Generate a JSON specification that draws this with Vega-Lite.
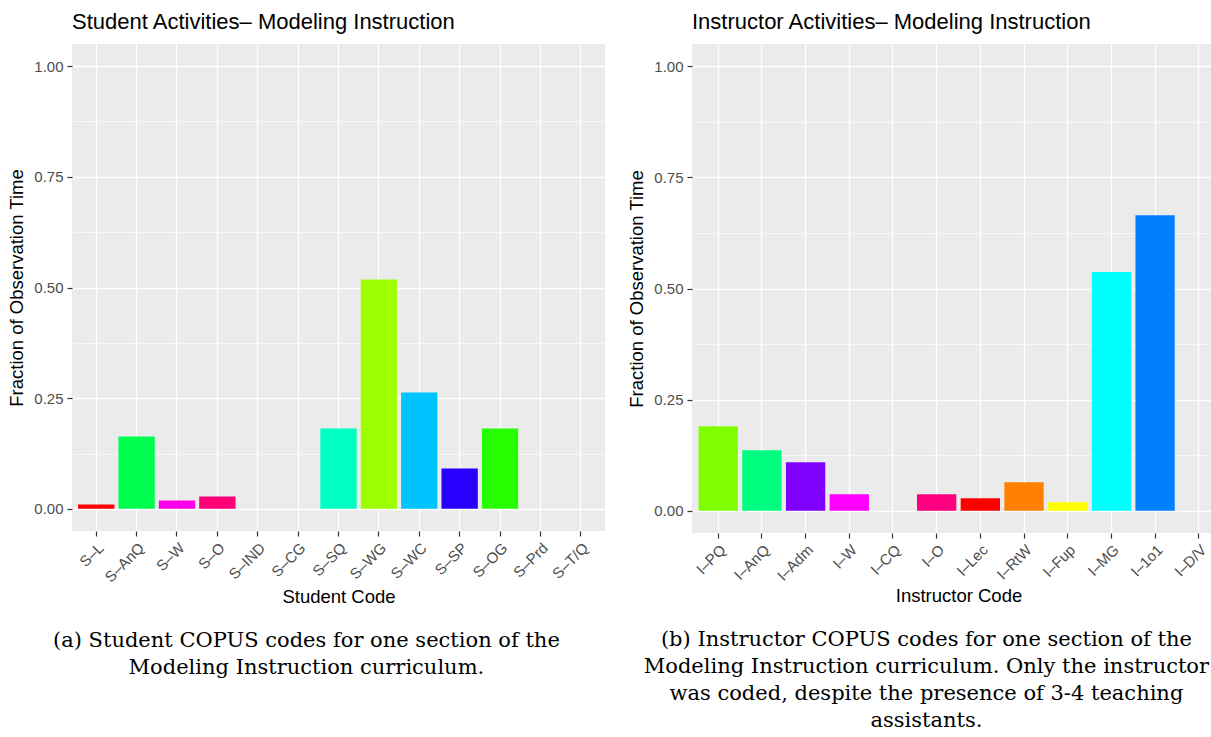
{
  "$schema": "https://vega.github.io/schema/vega-lite/v6.json",
  "background": "white",
  "padding": {"left": 7, "top": 11, "right": 0, "bottom": 0},
  "resolve": {"scale": {"color": "independent", "x": "independent", "y": "independent"}},
  "config": {
    "font": "Liberation Sans",
    "view": {"fill": "#EBEBEB", "stroke": null},
    "axis": {
      "gridColor": "white", "gridWidth": 1.3, "domain": false,
      "tickColor": "#333333", "tickSize": 5, "tickWidth": 1.2,
      "labelColor": "#4D4D4D", "labelFontSize": 15, "labelPadding": 4,
      "titleFontSize": 18.5, "titleFontWeight": "normal", "titleColor": "black"
    },
    "title": {"font": "Liberation Sans", "fontSize": 22, "fontWeight": "normal", "anchor": "start", "frame": "group", "color": "black"},
    "concat": {"spacing": 22}
  },
  "datasets": {
    "student": [
      {"code": "S–L", "value": 0.010},
      {"code": "S–AnQ", "value": 0.1635},
      {"code": "S–W", "value": 0.019},
      {"code": "S–O", "value": 0.028},
      {"code": "S–IND", "value": 0},
      {"code": "S–CG", "value": 0},
      {"code": "S–SQ", "value": 0.1818},
      {"code": "S–WG", "value": 0.518},
      {"code": "S–WC", "value": 0.263},
      {"code": "S–SP", "value": 0.091},
      {"code": "S–OG", "value": 0.1818},
      {"code": "S–Prd", "value": 0},
      {"code": "S–T/Q", "value": 0}
    ],
    "instructor": [
      {"code": "I–PQ", "value": 0.190},
      {"code": "I–AnQ", "value": 0.136},
      {"code": "I–Adm", "value": 0.109},
      {"code": "I–W", "value": 0.037},
      {"code": "I–CQ", "value": 0},
      {"code": "I–O", "value": 0.037},
      {"code": "I–Lec", "value": 0.028},
      {"code": "I–RtW", "value": 0.064},
      {"code": "I–Fup", "value": 0.019},
      {"code": "I–MG", "value": 0.537},
      {"code": "I–1o1", "value": 0.665},
      {"code": "I–D/V", "value": 0}
    ]
  },
  "hconcat": [
    {
      "title": {
        "text": ["(a) Student COPUS codes for one section of the", "Modeling Instruction curriculum."],
        "orient": "bottom", "anchor": "middle", "frame": "bounds",
        "font": "DejaVu Serif", "fontSize": 21, "lineHeight": 27, "offset": 24
      },
      "vconcat": [
        {
          "title": {"text": "Student Activities– Modeling Instruction", "offset": 10},
          "width": 533, "height": 487,
          "data": {"name": "student"},
          "layer": [
            {
              "mark": {"type": "bar"},
              "encoding": {
                "x": {"field": "code", "type": "nominal", "sort": null,
                  "scale": {"paddingInner": 0.1, "paddingOuter": 0.15},
                  "axis": {"title": "Student Code", "labelAngle": -45, "labelAlign": "right", "labelBaseline": "top", "grid": true, "titlePadding": 3}},
                "y": {"field": "value", "type": "quantitative",
                  "scale": {"domain": [-0.05, 1.05], "nice": false, "zero": false},
                  "axis": {"title": "Fraction of Observation Time", "values": [0, 0.25, 0.5, 0.75, 1], "format": ".2f", "titlePadding": 7}},
                "y2": {"datum": 0},
                "color": {"field": "code", "type": "nominal",
                  "scale": {"domain": ["S–L","S–AnQ","S–W","S–O","S–IND","S–CG","S–SQ","S–WG","S–WC","S–SP","S–OG","S–Prd","S–T/Q"],
                    "range": ["#FF0000","#00FF4E","#FF00EB","#FF0076","#FF7600","#FFEB00","#00FFC4","#9DFF00","#00C4FF","#2700FF","#27FF00","#004EFF","#9D00FF"]},
                  "legend": null}
              }
            },
            {
              "mark": {"type": "bar", "opacity": 0},
              "encoding": {
                "x": {"field": "code", "type": "nominal", "sort": null},
                "y": {"field": "value", "type": "quantitative",
                  "axis": {"orient": "right", "values": [0.125, 0.375, 0.625, 0.875], "labels": false, "ticks": false, "title": null, "grid": true, "gridWidth": 0.6}},
                "y2": {"datum": 0}
              }
            }
          ],
          "resolve": {"axis": {"y": "independent"}}
        }
      ]
    },
    {
      "title": {
        "text": ["(b) Instructor COPUS codes for one section of the", "Modeling Instruction curriculum. Only the instructor", "was coded, despite the presence of 3-4 teaching", "assistants."],
        "orient": "bottom", "anchor": "middle", "frame": "bounds",
        "font": "DejaVu Serif", "fontSize": 21, "lineHeight": 27, "offset": 24
      },
      "vconcat": [
        {
          "title": {"text": "Instructor Activities– Modeling Instruction", "offset": 10},
          "width": 533, "height": 489,
          "data": {"name": "instructor"},
          "layer": [
            {
              "mark": {"type": "bar"},
              "encoding": {
                "x": {"field": "code", "type": "nominal", "sort": null,
                  "scale": {"paddingInner": 0.1, "paddingOuter": 0.15},
                  "axis": {"title": "Instructor Code", "labelAngle": -45, "labelAlign": "right", "labelBaseline": "top", "grid": true, "titlePadding": 3}},
                "y": {"field": "value", "type": "quantitative",
                  "scale": {"domain": [-0.05, 1.05], "nice": false, "zero": false},
                  "axis": {"title": "Fraction of Observation Time", "values": [0, 0.25, 0.5, 0.75, 1], "format": ".2f", "titlePadding": 7}},
                "y2": {"datum": 0},
                "color": {"field": "code", "type": "nominal",
                  "scale": {"domain": ["I–PQ","I–AnQ","I–Adm","I–W","I–CQ","I–O","I–Lec","I–RtW","I–Fup","I–MG","I–1o1","I–D/V"],
                    "range": ["#80FF00","#00FF80","#8000FF","#FF00FF","#00FF00","#FF0080","#FF0000","#FF8000","#FFFF00","#00FFFF","#0080FF","#0000FF"]},
                  "legend": null}
              }
            },
            {
              "mark": {"type": "bar", "opacity": 0},
              "encoding": {
                "x": {"field": "code", "type": "nominal", "sort": null},
                "y": {"field": "value", "type": "quantitative",
                  "axis": {"orient": "right", "values": [0.125, 0.375, 0.625, 0.875], "labels": false, "ticks": false, "title": null, "grid": true, "gridWidth": 0.6}},
                "y2": {"datum": 0}
              }
            }
          ],
          "resolve": {"axis": {"y": "independent"}}
        }
      ]
    }
  ]
}
